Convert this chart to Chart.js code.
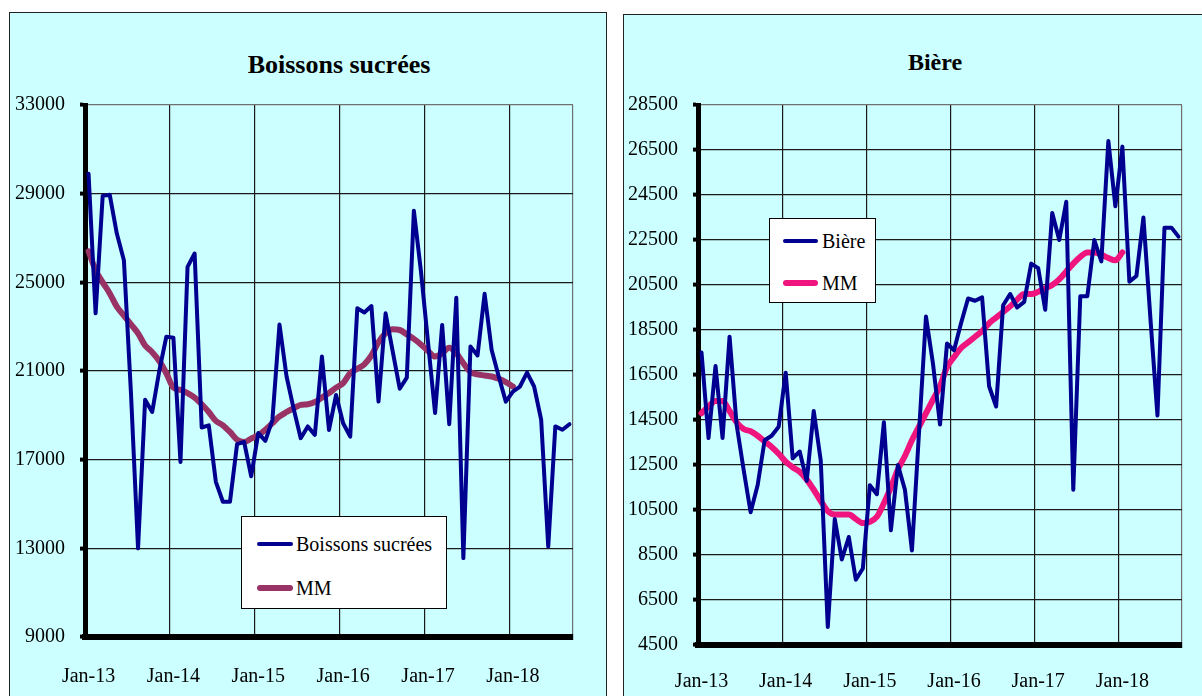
<!DOCTYPE html>
<html>
<head>
<meta charset="utf-8">
<script src="https://cdn.jsdelivr.net/npm/chart.js@4.4.1/dist/chart.umd.min.js"></script>
<style>
    body { margin: 0; width: 1202px; height: 696px; overflow: hidden; background: #ffffff; position: relative; font-family: "Liberation Serif", "Times New Roman", serif; }
    .panel { position: absolute; box-sizing: border-box; background: #ccffff; border: 1px solid #222; }
    .title { position: absolute; width: 400px; text-align: center; font-weight: bold; line-height: 30px; color: #000; }
    canvas { position: absolute; }
    .legend { position: absolute; box-sizing: border-box; background: #ffffff; border: 1px solid #000; }
    .item { position: absolute; font-size: 20px; line-height: 24px; white-space: nowrap; color: #000; }
    .swatch { position: absolute; border-radius: 3px; }
</style>
</head>
<body>
    <div class="panel" style="left:9px; top:12px; width:598px; height:700px;"></div>
    <div class="panel" style="left:623px; top:14px; width:600px; height:700px;"></div>

    <div class="title" style="left:139px; top:50px; font-size:26px;">Boissons sucrées</div>
    <div class="title" style="left:735px; top:47px; font-size:24px;">Bière</div>

    <canvas id="sodaChart" width="596" height="683" style="left:10px; top:13px;"></canvas>
    <canvas id="beerChart" width="578" height="681" style="left:624px; top:15px;"></canvas>

    <div class="legend" style="left:241px; top:516px; width:206px; height:93px;">
        <div class="item" style="left:0; top:15px;"><span class="swatch" id="sw1" style="left:15px; top:10px; width:36px; height:4px;"></span><span style="position:absolute; left:54px;">Boissons sucrées</span></div>
        <div class="item" style="left:0; top:59px;"><span class="swatch" id="sw2" style="left:15px; top:9px; width:36px; height:6px;"></span><span style="position:absolute; left:54px;">MM</span></div>
    </div>
    <div class="legend" style="left:769px; top:218px; width:107px; height:85px;">
        <div class="item" style="left:0; top:10px;"><span class="swatch" id="sw3" style="left:13px; top:10px; width:35px; height:4px;"></span><span style="position:absolute; left:52px;">Bière</span></div>
        <div class="item" style="left:0; top:52px;"><span class="swatch" id="sw4" style="left:13px; top:9px; width:35px; height:6px;"></span><span style="position:absolute; left:52px;">MM</span></div>
    </div>

<script>
// --- Data (monthly, Jan-13 to Sep-18) ---
const monthNames = ['Jan', 'Feb', 'Mar', 'Apr', 'May', 'Jun', 'Jul', 'Aug', 'Sep', 'Oct', 'Nov', 'Dec'];
const years = ['13', '14', '15', '16', '17', '18'];
const monthCount = 69;

const sodaValues = [
    29900, 23600, 28900, 28950, 27200, 26000, 20000, 13000, 19700, 19150, 21000, 22550,
    22500, 16900, 25700, 26300, 18450, 18550, 16000, 15100, 15100, 17700, 17800, 16250,
    18200, 17850, 18800, 23100, 20750, 19300, 17970, 18500, 18120, 21650, 18340, 19920,
    18640, 18040, 23830, 23640, 23930, 19620, 23600, 21900, 20200, 20700, 28230, 25500,
    22300, 19100, 23080, 18600, 24300, 12560, 22100, 21700, 24480, 21950, 20750, 19620,
    20070, 20300, 20930, 20300, 18800, 13080, 18500, 18350, 18600
];
const sodaMM = [
    26400, 25550, 25000, 24500, 23900, 23500, 23100, 22700, 22150, 21850, 21450, 20900,
    20250, 20150, 20000, 19800, 19500, 19150, 18750, 18550, 18250, 17900, 17800, 17950,
    18100, 18350, 18650, 18950, 19150, 19320, 19470, 19500, 19600, 19800, 20000, 20250,
    20450, 20900, 21100, 21300, 21700, 22300, 22700, 22880, 22850, 22650, 22450, 22200,
    21900, 21650, 21800, 22050, 21800, 21350, 20950, 20850, 20800, 20750, 20650, 20500,
    20300
];

const beerValues = [
    17500, 13700, 16900, 13700, 18200, 14300, 12300, 10400, 11600, 13600, 13800, 14200,
    16600, 12800, 13100, 11800, 14900, 12700, 5300, 10100, 8300, 9300, 7400, 7900,
    11600, 11200, 14400, 9600, 12500, 11400, 8700, 13900, 19100, 17000, 14300, 17900,
    17600, 18800, 19900, 19800, 19950, 16000, 15100, 19600, 20100, 19500, 19750, 21450,
    21250, 19400, 23700, 22500, 24200, 11400, 20000, 20000, 22500, 21550, 26900, 24000,
    26650, 20650, 20900, 23500, 19000, 14700, 23050, 23050, 22650
];
const beerMM = [
    14800, 15100, 15350, 15350, 14900, 14400, 14100, 14000, 13800, 13550, 13300, 13000,
    12650, 12400, 12200, 11850, 11400, 10900, 10450, 10300, 10300, 10300, 10100, 9920,
    9980, 10200, 10800, 11500, 12300, 12900, 13600, 14200, 14800, 15400, 16000, 16850,
    17300, 17700, 17950, 18200, 18450, 18800, 19050, 19300, 19550, 19850, 20100, 20100,
    20200, 20350, 20500, 20750, 21100, 21450, 21750, 21950, 21950, 21850, 21700, 21600,
    21950
];

const sodaAxis = { min: 9000, max: 33000, step: 4000 };
const beerAxis = { min: 4500, max: 28500, step: 2000 };

// --- Colors ---
const seriesBlue = '#000090';
const sodaMMColor = '#993366';
const beerMMColor = '#f0147f';
const gridBlack = '#1a1a1a';
const frameGray = '#707070';

const monthLabels = [];
for (let i = 0; i < monthCount; i++) {
    monthLabels.push(monthNames[i % 12] + '-' + years[Math.floor(i / 12)]);
}

document.getElementById('sw1').style.background = seriesBlue;
document.getElementById('sw2').style.background = sodaMMColor;
document.getElementById('sw3').style.background = seriesBlue;
document.getElementById('sw4').style.background = beerMMColor;

Chart.defaults.font.family = '"Liberation Serif", "Times New Roman", serif';
Chart.defaults.font.size = 20;
Chart.defaults.color = '#000000';

function buildChart(canvasId, name, values, mm, mmColor, axis, box) {
    new Chart(document.getElementById(canvasId), {
        type: 'line',
        data: {
            labels: monthLabels,
            datasets: [
                {
                    label: name,
                    data: values,
                    borderColor: seriesBlue,
                    borderWidth: 4,
                    pointRadius: 0,
                    tension: 0,
                    borderJoinStyle: 'round',
                    borderCapStyle: 'round'
                },
                {
                    label: 'MM',
                    data: mm,
                    borderColor: mmColor,
                    borderWidth: 6,
                    pointRadius: 0,
                    cubicInterpolationMode: 'monotone',
                    borderJoinStyle: 'round',
                    borderCapStyle: 'round'
                }
            ]
        },
        options: {
            responsive: false,
            animation: false,
            devicePixelRatio: 1,
            layout: { padding: { left: 0, top: box.top, right: box.right, bottom: 0 } },
            plugins: { legend: { display: false }, tooltip: { enabled: false } },
            scales: {
                x: {
                    type: 'category',
                    offset: true,
                    border: { color: '#000000', width: 6 },
                    grid: {
                        offset: true,
                        color: c => c.index === undefined ? frameGray : (c.index % 12 === 0 ? gridBlack : 'rgba(0,0,0,0)'),
                        lineWidth: 1.2,
                        tickLength: 5,
                        tickColor: 'rgba(0,0,0,0)'
                    },
                    ticks: {
                        autoSkip: false,
                        maxRotation: 0,
                        padding: box.labelGap,
                        callback: function (val, i) { return i % 12 === 0 ? this.getLabelForValue(val) : ''; }
                    },
                    afterFit: s => { s.height = box.xHeight; }
                },
                y: {
                    min: axis.min,
                    max: axis.max,
                    border: { color: '#000000', width: 5 },
                    grid: {
                        color: c => c.tick && c.tick.value === axis.max ? frameGray : gridBlack,
                        lineWidth: 1.2,
                        tickLength: 5,
                        tickWidth: 4,
                        tickColor: '#000000'
                    },
                    ticks: {
                        stepSize: axis.step,
                        padding: 15,
                        callback: v => String(v)
                    },
                    afterFit: s => { s.width = box.yWidth; }
                }
            }
        }
    });
}

// --- Charts ---
buildChart('sodaChart', 'Boissons sucrées', sodaValues, sodaMM, sodaMMColor, sodaAxis,
    { top: 92, right: 33, yWidth: 75, xHeight: 59, labelGap: 23 });
buildChart('beerChart', 'Bière', beerValues, beerMM, beerMMColor, beerAxis,
    { top: 90, right: 20, yWidth: 74, xHeight: 51, labelGap: 20 });
</script>
</body>
</html>
